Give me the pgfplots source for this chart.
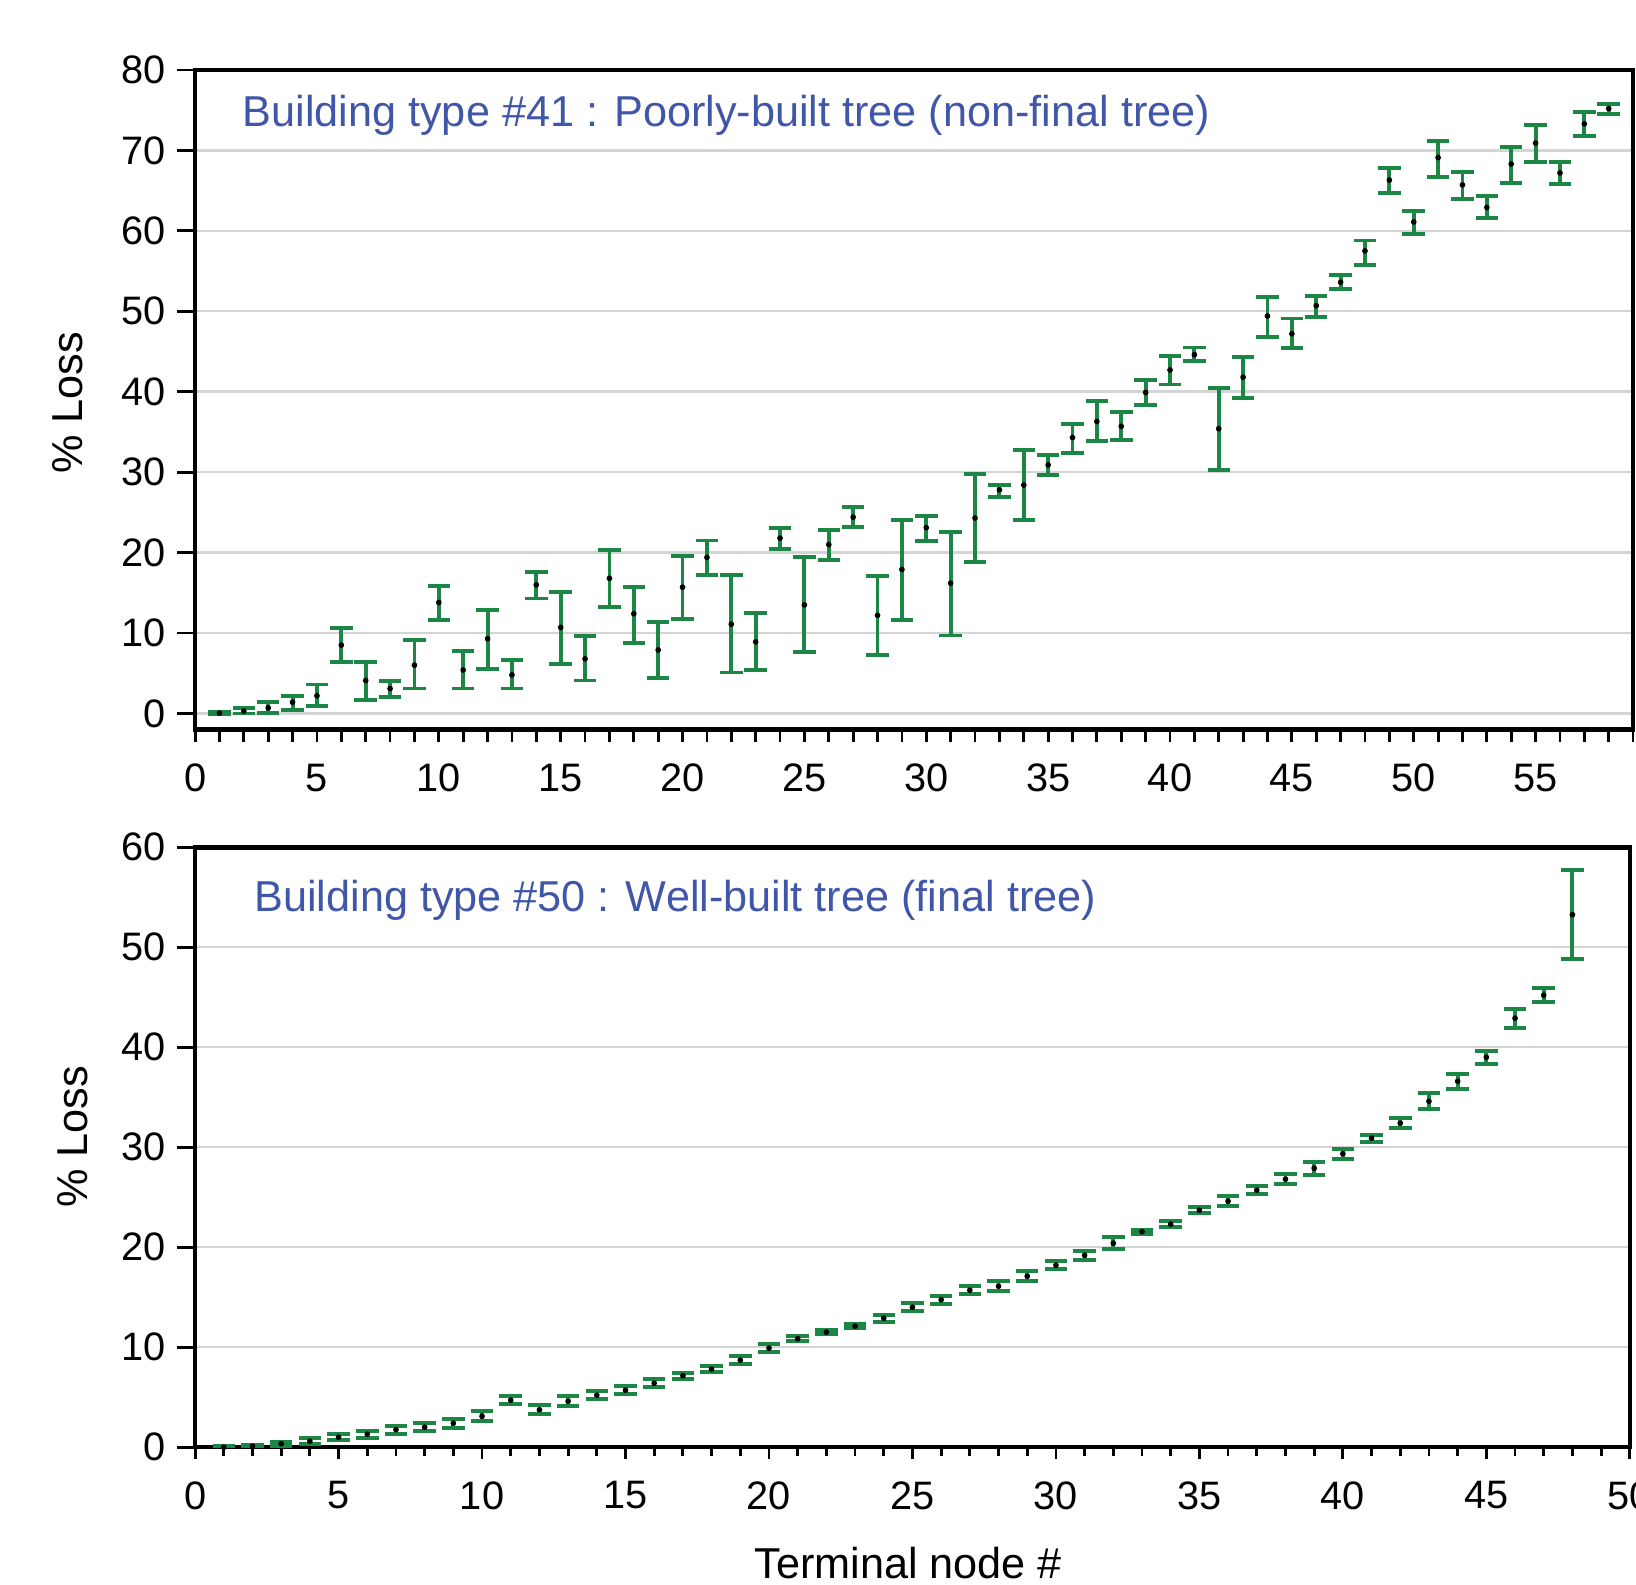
\documentclass[border=0pt]{standalone}
\usepackage{fontspec}
\setmainfont{Liberation Sans}
\usepackage{pgfplots}
\usepackage{pgfplotstable}
\pgfplotsset{compat=1.18}
\definecolor{bargreen}{RGB}{28,134,68}
\definecolor{txtblue}{RGB}{64,86,168}

\pgfplotstableread{
n y lo hi
1 0.05 -0.05 0.15
2 0.3 0.0 0.7
3 0.7 0.1 1.4
4 1.4 0.4 2.2
5 2.2 0.9 3.6
6 8.5 6.4 10.6
7 4.1 1.7 6.4
8 3.1 2.1 4.0
9 6.0 3.1 9.1
10 13.8 11.6 15.8
11 5.4 3.1 7.8
12 9.3 5.5 12.9
13 4.8 3.1 6.7
14 16.0 14.3 17.6
15 10.7 6.2 15.1
16 6.8 4.1 9.6
17 16.8 13.2 20.3
18 12.4 8.8 15.7
19 7.9 4.4 11.4
20 15.7 11.8 19.6
21 19.4 17.2 21.5
22 11.1 5.1 17.2
23 8.9 5.4 12.5
24 21.8 20.4 23.1
25 13.5 7.6 19.4
26 21.0 19.1 22.8
27 24.4 23.2 25.7
28 12.2 7.3 17.1
29 17.9 11.6 24.1
30 23.1 21.4 24.6
31 16.2 9.7 22.6
32 24.3 18.8 29.8
33 27.8 26.9 28.4
34 28.4 24.0 32.8
35 30.9 29.7 32.1
36 34.3 32.4 36.0
37 36.3 33.9 38.8
38 35.7 34.0 37.5
39 39.9 38.3 41.5
40 42.7 40.9 44.4
41 44.6 43.8 45.5
42 35.4 30.3 40.5
43 41.8 39.2 44.3
44 49.4 46.8 51.8
45 47.2 45.4 49.1
46 50.7 49.3 51.9
47 53.6 52.8 54.5
48 57.5 55.8 58.8
49 66.3 64.7 67.8
50 61.1 59.6 62.5
51 69.1 66.7 71.2
52 65.7 64.0 67.3
53 62.9 61.6 64.3
54 68.3 65.9 70.4
55 70.9 68.6 73.2
56 67.2 65.8 68.5
57 73.3 71.8 74.8
58 75.2 74.5 75.8
}\poorly

\pgfplotstableread{
n y e
1 0.0 0.1
2 0.1 0.15
3 0.35 0.2
4 0.6 0.3
5 1.0 0.3
6 1.3 0.35
7 1.75 0.4
8 2.0 0.4
9 2.4 0.45
10 3.1 0.5
11 4.7 0.4
12 3.75 0.45
13 4.6 0.5
14 5.2 0.4
15 5.7 0.4
16 6.4 0.4
17 7.15 0.3
18 7.8 0.3
19 8.7 0.4
20 9.9 0.4
21 10.85 0.25
22 11.5 0.2
23 12.1 0.2
24 12.9 0.35
25 14.0 0.4
26 14.75 0.4
27 15.7 0.4
28 16.1 0.5
29 17.1 0.5
30 18.2 0.4
31 19.2 0.45
32 20.4 0.6
33 21.55 0.2
34 22.3 0.3
35 23.7 0.3
36 24.6 0.5
37 25.7 0.4
38 26.8 0.5
39 27.9 0.65
40 29.35 0.5
41 30.9 0.35
42 32.4 0.5
43 34.6 0.8
44 36.6 0.75
45 39.0 0.65
46 42.9 0.95
47 45.2 0.7
48 53.25 4.45
}\well

\pgfplotsset{
  mystyle/.style={
    scale only axis,
    axis line style={line width=1.3pt},
    tick align=outside, tick pos=left,
    xtick distance=5, minor x tick num=4,
    ytick distance=10,
    ymajorgrids, grid style={line width=0.7pt, black!17},
    major tick length=0.12cm,
    every tick/.style={black, line width=0.8pt},
    ytick style={/pgfplots/major tick length=0.18cm},
    tick label style={font=\fontsize{11.3}{13}\selectfont},
    xticklabel style={yshift=-0.1cm},
    yticklabel style={xshift=-0.05cm},
    /pgf/number format/assume math mode=true,
    label style={font=\fontsize{12.3}{14}\selectfont},
  },
  ebar/.style={only marks, mark=*, mark size=0.6pt, black,
    error bars/.cd, y dir=both, y explicit,
    error bar style={bargreen, line width=1.1pt},
    error mark options={bargreen, rotate=90, mark size=3.2pt, line width=1.1pt}},
}

\begin{document}
\begin{tikzpicture}
\begin{axis}[mystyle,
  at={(1.951cm,-0.699cm)}, anchor=north west,
  width=14.38cm, height=6.597cm,
  xmin=0, xmax=59, ymin=-2, ymax=80,
  minor tick length=0.12cm,
  ylabel={\% Loss},
  ylabel style={at={(axis description cs:-0.0885,0.495)}, anchor=center},
]
\addplot[ebar] table[x=n, y=y, y error plus expr=\thisrow{hi}-\thisrow{y}, y error minus expr=\thisrow{y}-\thisrow{lo}] {\poorly};
\node[anchor=west, text=txtblue, font=\fontsize{12.3}{14}\selectfont, inner sep=0pt] at (axis cs:1.92,74.3) {Building type \#41 : Poorly-built tree (non-final tree)};
\end{axis}
\begin{axis}[mystyle,
  at={(1.951cm,-8.472cm)}, anchor=north west,
  width=14.347cm, height=6.0cm,
  xmin=0, xmax=50, ymin=0, ymax=60,
  minor tick length=0.09cm,
  ylabel={\% Loss},
  ylabel style={at={(axis description cs:-0.085,0.517)}, anchor=center},
  xlabel={Terminal node \#},
  xlabel style={at={(axis description cs:0.497,-0.193)}, anchor=center},
]
\addplot[ebar] table[x=n, y=y, y error=e] {\well};
\node[anchor=west, text=txtblue, font=\fontsize{12.3}{14}\selectfont, inner sep=0pt] at (axis cs:2.04,54.7) {Building type \#50 : Well-built tree (final tree)};
\end{axis}
\pgfresetboundingbox
\path[use as bounding box] (0,0) rectangle (16.36cm,-15.84cm);
\end{tikzpicture}
\end{document}
